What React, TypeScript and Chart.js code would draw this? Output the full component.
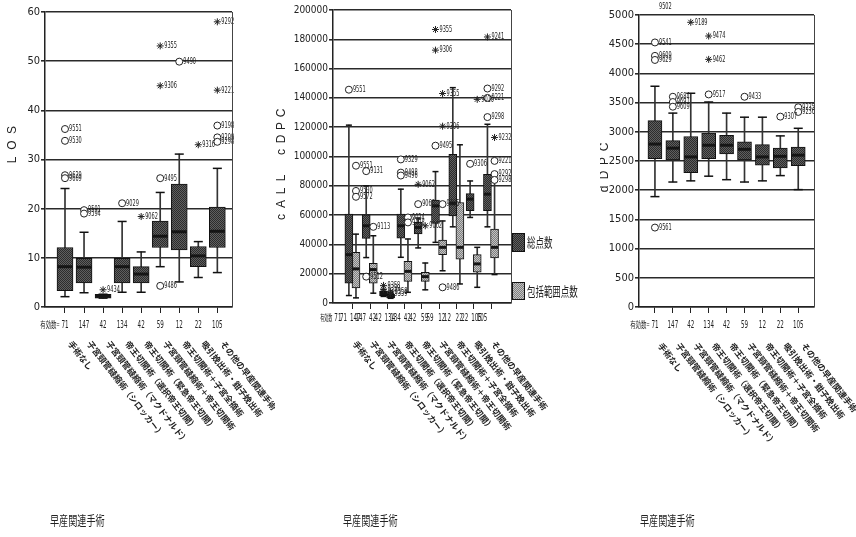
import React, { useEffect, useRef } from "react";
import { Chart, registerables } from "chart.js";

Chart.register(...registerables);

const NARROW = '"Liberation Sans Narrow", "DejaVu Sans Condensed", "Noto Sans CJK JP", sans-serif';
const CJK = '"Noto Sans CJK JP", sans-serif';
const INK = "#222";

// ---------- shared categories ----------
const procedures = [
  "手術なし",
  "子宮頸管縫縮術（シロッカー）",
  "子宮頸管縫縮術（マクドナルド）",
  "帝王切開術（選択帝王切開）",
  "帝王切開術（緊急帝王切開）",
  "子宮頸管縫縮術＋帝王切開術",
  "帝王切開術＋子宮全摘術",
  "吸引娩出術・鉗子娩出術",
  "その他の早産関連手術",
];
const validN = [71, 147, 42, 134, 42, 59, 12, 22, 105];

type Outlier = [number, number, string, "o" | "*"];

// ---------- LOS ----------
const losTicks = [0, 10, 20, 30, 40, 50, 60];
const losMin = [2.1, 2.9, 1.8, 3.0, 3.0, 8.2, 5.1, 6.0, 7.0];
const losQ1 = [3.3, 4.9, 1.8, 4.9, 4.9, 12.1, 11.6, 8.2, 12.1];
const losMedian = [8.2, 8.1, 2.2, 8.2, 6.7, 14.4, 15.3, 10.4, 15.4];
const losQ3 = [12.1, 9.9, 2.6, 9.9, 8.2, 17.5, 25.0, 12.3, 20.3];
const losMax = [24.1, 15.2, 2.6, 17.4, 11.2, 23.3, 31.1, 13.3, 28.2];
const losOutliers: Outlier[] = [
  [1, 36.2, "9551", "o"], [1, 33.8, "9530", "o"], [1, 26.8, "9629", "o"], [1, 26.2, "9609", "o"],
  [2, 19.7, "9591", "o"], [2, 19.0, "9594", "o"],
  [3, 3.5, "9434", "*"],
  [4, 21.1, "9029", "o"],
  [5, 18.4, "9062", "*"],
  [6, 26.2, "9495", "o"], [6, 4.3, "9486", "o"], [6, 53.1, "9355", "*"], [6, 45.0, "9306", "*"],
  [7, 49.9, "9490", "o"],
  [8, 33.0, "9316", "*"],
  [9, 58.0, "9292", "*"], [9, 44.1, "9221", "*"], [9, 36.9, "9198", "o"], [9, 34.5, "9209", "o"], [9, 33.6, "9298", "o"],
];

// ---------- cALL cDPC (総点数 / 包括範囲点数) ----------
const pointTicks = [0, 20000, 40000, 60000, 80000, 100000, 120000, 140000, 160000, 180000, 200000];
const totalMin = [5100, 31000, 4500, 31200, 37600, 41400, 52000, 58400, 52000];
const totalQ1 = [13500, 44100, 5000, 44300, 47100, 54300, 59500, 63000, 63000];
const totalMedian = [33000, 52700, 6500, 52700, 51600, 66300, 68000, 70900, 74300];
const totalQ3 = [60700, 60200, 8000, 60700, 55000, 70200, 101500, 74700, 87900];
const totalMax = [121400, 80000, 9000, 77700, 58000, 89700, 147000, 83300, 122000];
const totalOutliers: Outlier[] = [
  [1, 145600, "9551", "o"],
  [2, 90000, "9131", "o"], [2, 18000, "9512", "o"],
  [3, 12000, "9358", "*"], [3, 9500, "9359", "*"],
  [4, 98000, "9329", "o"], [4, 89000, "9498", "o"], [4, 87000, "9496", "o"],
  [5, 81000, "9062", "*"], [5, 67500, "9068", "o"],
  [6, 107400, "9495", "o"], [6, 186700, "9355", "*"], [6, 172600, "9306", "*"],
  [8, 95000, "9306", "o"],
  [9, 146400, "9292", "o"], [9, 140000, "9221", "o"], [9, 126900, "9298", "o"], [9, 181600, "9241", "*"],
];
const inclMin = [3500, 6700, 3200, 7300, 9000, 22000, 13000, 10700, 19400];
const inclQ1 = [10300, 13500, 3500, 14800, 14800, 33000, 30000, 21000, 30700];
const inclMedian = [23300, 22800, 4500, 21600, 18000, 38000, 38000, 26700, 38000];
const inclQ3 = [34600, 27000, 6000, 28400, 21000, 43000, 68600, 33000, 50500];
const inclMax = [47000, 45900, 7000, 43700, 27300, 56000, 108000, 38000, 85000];
const inclOutliers: Outlier[] = [
  [1, 93700, "9551", "o"], [1, 76500, "9530", "o"], [1, 72500, "9572", "o"],
  [2, 52000, "9113", "o"],
  [3, 8000, "9358", "*"], [3, 6500, "9359", "*"],
  [4, 58400, "9024", "o"], [4, 55000, "9498", "o"],
  [5, 52700, "9062", "*"],
  [6, 67500, "9495", "o"], [6, 10700, "9486", "o"], [6, 143000, "9355", "*"], [6, 120700, "9306", "*"],
  [8, 139000, "9016", "*"],
  [9, 113000, "9232", "*"], [9, 97000, "9221", "o"], [9, 88000, "9292", "o"], [9, 84000, "9298", "o"],
];
const legendLabels = ["総点数", "包括範囲点数"];

// ---------- dDPC ----------
const dpcTicks = [0, 500, 1000, 1500, 2000, 2500, 3000, 3500, 4000, 4500, 5000];
const dpcMin = [1890, 2140, 2160, 2240, 2180, 2140, 2160, 2250, 2010];
const dpcQ1 = [2540, 2520, 2300, 2540, 2620, 2520, 2430, 2380, 2420];
const dpcMedian = [2790, 2720, 2570, 2770, 2770, 2700, 2570, 2580, 2600];
const dpcQ3 = [3190, 2850, 2920, 2980, 2940, 2830, 2780, 2720, 2740];
const dpcMax = [3780, 3320, 3660, 3510, 3320, 3250, 3250, 2930, 3060];
const dpcOutliers: Outlier[] = [
  [1, 5150, "9502", "o"], [1, 4530, "9541", "o"], [1, 4300, "9609", "o"], [1, 4230, "9629", "o"], [1, 1360, "9561", "o"],
  [2, 3600, "9684", "o"], [2, 3510, "9691", "o"], [2, 3430, "9609", "o"],
  [3, 4875, "9189", "*"],
  [4, 3640, "9517", "o"], [4, 4640, "9474", "*"], [4, 4240, "9462", "*"],
  [6, 3600, "9433", "o"],
  [8, 3260, "9307", "o"],
  [9, 3420, "9235", "o"], [9, 3340, "9236", "o"],
];

const xTitle = "早産関連手術";

// ---------- helpers ----------
function makePattern(base: string, dot: string): CanvasPattern | string {
  const c = document.createElement("canvas");
  c.width = 2;
  c.height = 2;
  const g = c.getContext("2d");
  if (!g) return base;
  g.fillStyle = base;
  g.fillRect(0, 0, 2, 2);
  g.fillStyle = dot;
  g.fillRect(0, 0, 1, 1);
  g.fillRect(1, 1, 1, 1);
  return g.createPattern(c, "repeat") || base;
}

function drawText(
  ctx: CanvasRenderingContext2D, s: string, x: number, y: number, font: string,
  align: CanvasTextAlign = "left", sx = 1, baseline: CanvasTextBaseline = "middle"
) {
  ctx.save();
  ctx.font = font;
  ctx.textAlign = align;
  ctx.textBaseline = baseline;
  ctx.fillStyle = INK;
  ctx.translate(x, y);
  ctx.scale(sx, 1);
  ctx.fillText(s, 0, 0);
  ctx.restore();
}

interface BoxSeries {
  min: number[]; q1: number[]; med: number[]; q3: number[]; max: number[];
  outliers: Outlier[]; dx: number; width: number; cap: number; light: boolean;
}

function seriesDatasets(s: BoxSeries, yMax: number, fill: any): any[] {
  const xs = s.min.map((_, i) => i + 1 + s.dx);
  const circles = s.outliers.filter((o) => o[3] === "o");
  const stars = s.outliers.filter((o) => o[3] === "*");
  return [
    {
      type: "bar", data: xs.map((x, i) => ({ x, y: [s.min[i], s.max[i]] })),
      backgroundColor: "#333", borderWidth: 0, barThickness: 1, grouped: false, order: 6,
    },
    {
      type: "bar", data: xs.map((x, i) => ({ x, y: [s.q1[i], s.q3[i]] })),
      backgroundColor: fill, borderColor: "#111", borderWidth: 1, borderSkipped: false,
      barThickness: s.width, grouped: false, order: 5,
    },
    {
      type: "scatter", data: xs.flatMap((x, i) => [{ x, y: s.min[i] }, { x, y: s.max[i] }]),
      pointStyle: "line", pointRadius: s.cap / 2, pointBorderColor: "#111", pointBorderWidth: 1.5, order: 3,
    },
    {
      type: "scatter", data: xs.map((x, i) => ({ x, y: s.med[i] })),
      pointStyle: "line", pointRadius: s.width / 2 - 0.5, pointBorderColor: "#151515", pointBorderWidth: 3, order: 2,
    },
    {
      type: "scatter", data: circles.map((o) => ({ x: o[0] + s.dx, y: o[1], id: o[2] })),
      pointStyle: "circle",
      pointRadius: (c: any) => (c.raw && c.raw.y > yMax ? 0 : 3.5),
      pointBackgroundColor: "#fff", pointBorderColor: INK, pointBorderWidth: 1, order: 1, outlierLabels: true,
    },
    {
      type: "scatter", data: stars.map((o) => ({ x: o[0] + s.dx, y: o[1], id: o[2] })),
      pointStyle: "star", pointRadius: 3.5, pointBorderColor: INK, pointBorderWidth: 1, order: 1, outlierLabels: true,
    },
  ];
}

interface PanelCfg {
  left: number; width: number; padLeft: number; padRight: number; padTop: number;
  yWidth: number; xHeight: number; xMin: number; xMax: number;
  yTicks: number[]; tickFont: number;
  series: BoxSeries[];
  yTitle: string; yTitleX: number; yTitleY: number; yTitleStep: number;
  nY: number; nPrefix: string; doubleN: boolean; nShift: number;
  rotDx: number; rotY: number; titleX: number; legend: boolean;
}

function buildChart(canvas: HTMLCanvasElement, cfg: PanelCfg) {
  const dark = makePattern("#5f5f5f", "#2c2c2c");
  const light = makePattern("#c4c4c4", "#7e7e7e");
  const yMax = cfg.yTicks[cfg.yTicks.length - 1];
  const datasets = cfg.series.flatMap((s) => seriesDatasets(s, yMax, s.light ? light : dark));

  const decor = {
    id: "decor",
    afterDatasetsDraw(chart: any) {
      const ctx = chart.ctx as CanvasRenderingContext2D;
      chart.data.datasets.forEach((ds: any, di: number) => {
        if (!ds.outlierLabels) return;
        const meta = chart.getDatasetMeta(di);
        meta.data.forEach((el: any, j: number) => {
          drawText(ctx, ds.data[j].id, el.x + 4, el.y, `9px ${NARROW}`, "left", 0.62);
        });
      });
    },
    afterDraw(chart: any) {
      const ctx = chart.ctx as CanvasRenderingContext2D;
      const a = chart.chartArea;
      const xs = chart.scales.x;
      // right border of plot
      ctx.save();
      ctx.strokeStyle = "#444";
      ctx.lineWidth = 1;
      ctx.beginPath();
      ctx.moveTo(Math.round(a.right) + 0.5, a.top);
      ctx.lineTo(Math.round(a.right) + 0.5, a.bottom);
      ctx.stroke();
      ctx.restore();

      // y title (spaced letters, rotated)
      ctx.save();
      ctx.translate(cfg.yTitleX, cfg.yTitleY);
      ctx.rotate(-Math.PI / 2);
      const chars = cfg.yTitle.split("");
      chars.forEach((ch, k) => {
        const pos = (k - (chars.length - 1) / 2) * cfg.yTitleStep;
        drawText(ctx, ch, pos, 0, `12px "Liberation Sans", Arial, sans-serif`, "center");
      });
      ctx.restore();

      // valid N row
      const nFont = `10px ${NARROW}`;
      let firstLeft = Infinity;
      ctx.font = nFont;
      validN.forEach((n, i) => {
        const c = xs.getPixelForValue(i + 1) + cfg.nShift;
        const w = ctx.measureText(String(n)).width * 0.62;
        if (cfg.doubleN) {
          const d = 2.8;
          drawText(ctx, String(n), c - d, cfg.nY, nFont, "center", 0.62);
          drawText(ctx, String(n), c + d, cfg.nY, nFont, "center", 0.62);
          firstLeft = Math.min(firstLeft, c - d - w / 2);
        } else {
          drawText(ctx, String(n), c, cfg.nY, nFont, "center", 0.62);
          firstLeft = Math.min(firstLeft, c - w / 2);
        }
      });
      drawText(ctx, cfg.nPrefix, firstLeft - 2, cfg.nY, `9px ${CJK}`, "right", cfg.doubleN ? 0.45 : 0.6);

      // rotated procedure names
      procedures.forEach((p, i) => {
        const x0 = xs.getPixelForValue(i + 1) + cfg.rotDx;
        ctx.save();
        ctx.translate(x0, cfg.rotY);
        ctx.rotate((52 * Math.PI) / 180);
        drawText(ctx, p, 0, 0, `bold 8.5px ${CJK}`, "left", 1, "middle");
        ctx.restore();
      });

      // bottom title
      drawText(ctx, xTitle, cfg.titleX, 520, `13px ${CJK}`, "left", 0.7);

      // legend
      if (cfg.legend) {
        const lx = a.right + 1;
        const boxes: [number, number, any][] = [[233, 19, dark], [282, 18, light]];
        boxes.forEach(([y, h, f], k) => {
          ctx.save();
          ctx.fillStyle = f;
          ctx.fillRect(lx, y, 13, h);
          ctx.strokeStyle = "#111";
          ctx.lineWidth = 1;
          ctx.strokeRect(lx + 0.5, y + 0.5, 12, h - 1);
          ctx.restore();
          drawText(ctx, legendLabels[k], lx + 15, y + h / 2, `13px ${CJK}`, "left", 0.65);
        });
      }
    },
  };

  return new Chart(canvas, {
    type: "bar",
    data: { datasets },
    options: {
      responsive: false,
      animation: false,
      devicePixelRatio: 1,
      events: [],
      layout: { padding: { left: cfg.padLeft, right: cfg.padRight, top: cfg.padTop, bottom: 0 } },
      plugins: { legend: { display: false }, tooltip: { enabled: false } },
      scales: {
        x: {
          type: "linear",
          min: cfg.xMin,
          max: cfg.xMax,
          offset: false,
          afterBuildTicks: (s: any) => {
            s.ticks = validN.map((_, i) => ({ value: i + 1 }));
          },
          afterFit: (s: any) => {
            s.height = cfg.xHeight;
          },
          ticks: { callback: () => "", autoSkip: false, maxRotation: 0 },
          grid: { drawOnChartArea: false, drawTicks: true, tickLength: 6, color: INK, lineWidth: 1, offset: false },
          border: { color: INK, width: 1.5 },
        },
        y: {
          type: "linear",
          min: 0,
          max: yMax,
          afterBuildTicks: (s: any) => {
            s.ticks = cfg.yTicks.map((v) => ({ value: v }));
          },
          afterFit: (s: any) => {
            s.width = cfg.yWidth;
          },
          ticks: {
            callback: (v: any) => String(v),
            color: INK,
            padding: 1,
            font: { family: NARROW, size: cfg.tickFont },
          },
          grid: { color: "#2a2a2a", lineWidth: 1.6, tickLength: 4, drawTicks: true },
          border: { color: INK, width: 1.5 },
        },
      },
    } as any,
    plugins: [decor],
  } as any);
}

const losPanel: PanelCfg = {
  left: 0, width: 275, padLeft: 0, padRight: 43, padTop: 12, yWidth: 45, xHeight: 230,
  xMin: -0.05, xMax: 9.77, yTicks: losTicks, tickFont: 11,
  series: [
    { min: losMin, q1: losQ1, med: losMedian, q3: losQ3, max: losMax, outliers: losOutliers, dx: 0, width: 16, cap: 9, light: false },
  ],
  yTitle: "LOS", yTitleX: 13, yTitleY: 145, yTitleStep: 15,
  nY: 325, nPrefix: "有効数=", doubleN: false, nShift: 0,
  rotDx: 5, rotY: 342, titleX: 50, legend: false,
};

const pointsPanel: PanelCfg = {
  left: 275, width: 325, padLeft: 18, padRight: 89, padTop: 10, yWidth: 40, xHeight: 234,
  xMin: -0.137, xMax: 10.14, yTicks: pointTicks, tickFont: 10,
  series: [
    { min: totalMin, q1: totalQ1, med: totalMedian, q3: totalQ3, max: totalMax, outliers: totalOutliers, dx: -0.22, width: 8, cap: 6, light: false },
    { min: inclMin, q1: inclQ1, med: inclMedian, q3: inclQ3, max: inclMax, outliers: inclOutliers, dx: 0.19, width: 8, cap: 6, light: true },
  ],
  yTitle: "cALL cDPC", yTitleX: 7, yTitleY: 165, yTitleStep: 13,
  nY: 318, nPrefix: "有効数", doubleN: true, nShift: -12,
  rotDx: 2, rotY: 342, titleX: 68, legend: true,
};

const dpcPanel: PanelCfg = {
  left: 600, width: 256, padLeft: 3, padRight: 42, padTop: 15, yWidth: 36, xHeight: 230,
  xMin: 0.11, xMax: 9.88, yTicks: dpcTicks, tickFont: 11,
  series: [
    { min: dpcMin, q1: dpcQ1, med: dpcMedian, q3: dpcQ3, max: dpcMax, outliers: dpcOutliers, dx: 0, width: 14, cap: 9, light: false },
  ],
  yTitle: "dDPC", yTitleX: 5, yTitleY: 168, yTitleStep: 14,
  nY: 325, nPrefix: "有効数=", doubleN: false, nShift: 0,
  rotDx: 5, rotY: 344, titleX: 40, legend: false,
};

function Panel({ cfg }: { cfg: PanelCfg }) {
  const ref = useRef<HTMLCanvasElement>(null);
  useEffect(() => {
    if (!ref.current) return;
    const chart = buildChart(ref.current, cfg);
    return () => chart.destroy();
  }, [cfg]);
  return (
    <canvas
      ref={ref}
      width={cfg.width}
      height={537}
      style={{ position: "absolute", left: cfg.left, top: 0, width: cfg.width, height: 537 }}
    />
  );
}

export default function App() {
  return (
    <div style={{ position: "absolute", left: 0, top: 0, width: 856, height: 537, background: "#fff", overflow: "hidden" }}>
      <Panel cfg={losPanel} />
      <Panel cfg={pointsPanel} />
      <Panel cfg={dpcPanel} />
    </div>
  );
}
